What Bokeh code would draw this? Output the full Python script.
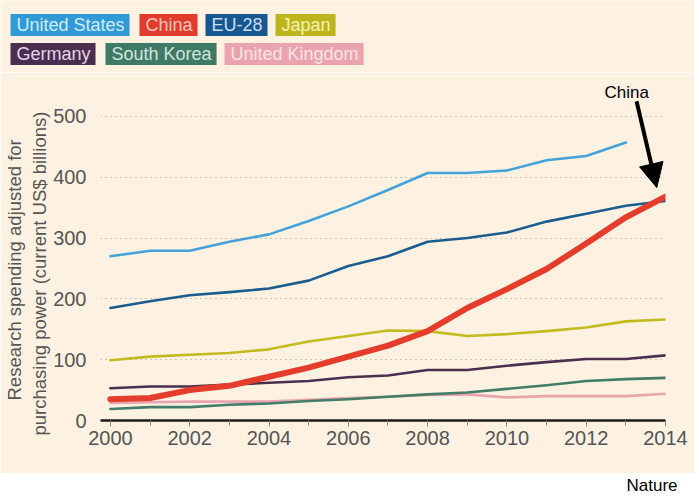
from bokeh.plotting import figure
from bokeh.models import Range1d, FixedTicker, Label, Arrow, NormalHead, Title
from bokeh.layouts import column
from bokeh.embed import file_html
from bokeh.resources import INLINE

# ---------------- data ----------------
years = list(range(2000, 2015))
years_us = list(range(2000, 2014))
us = [270, 279, 279, 294, 306, 328, 352, 379, 407, 407, 411, 428, 435, 457]
china = [35, 37, 50, 57, 72, 87, 105, 123, 147, 185, 216, 249, 291, 334, 368]
eu28 = [185, 196, 206, 211, 217, 230, 254, 270, 294, 300, 309, 327, 340, 353, 361]
japan = [99, 105, 108, 111, 117, 130, 139, 148, 147, 139, 142, 147, 153, 163, 166]
germany = [53, 56, 56, 59, 62, 65, 71, 74, 83, 83, 90, 96, 101, 101, 107]
south_korea = [19, 22, 22, 26, 28, 32, 35, 39, 43, 46, 52, 58, 65, 68, 70]
uk = [29, 30, 31, 31, 31, 34, 37, 39, 42, 43, 38, 40, 40, 40, 44]

names = ["United States", "China", "EU-28", "Japan",
         "Germany", "South Korea", "United Kingdom"]
x_ticks = [2000, 2002, 2004, 2006, 2008, 2010, 2012, 2014]
x_minor = [2001, 2003, 2005, 2007, 2009, 2011, 2013]
y_ticks = [0, 100, 200, 300, 400, 500]
y_title = ["Research spending adjusted for", "purchasing power (current US$ billions)"]

# ---------------- style ----------------
BG = "#FDF2E2"
FONT = "Liberation Sans"
W = 694
line_col = {"United States": "#45A2D8", "China": "#E53D2B", "EU-28": "#1B5C8E",
            "Japan": "#C3BA1E", "Germany": "#4A2F4E", "South Korea": "#437C68",
            "United Kingdom": "#E9A5AE"}
box_col = {"United States": "#2F9AD6", "China": "#E03B2D", "EU-28": "#17578F",
           "Japan": "#BEB51D", "Germany": "#4A2E4F", "South Korea": "#3F7A66",
           "United Kingdom": "#EAA4AE"}
txt_col = {"United States": "#D3EBF8", "China": "#F8C3BC", "EU-28": "#C9DDEE",
           "Japan": "#F6F1B4", "Germany": "#E4D6E5", "South Korea": "#D0E5DC",
           "United Kingdom": "#FAE3E6"}


def no_align(fig):
    if "frame_align" in fig.properties():
        fig.frame_align = False


def bare(width, height, bg, x_end, y_start, y_end):
    fig = figure(width=width, height=height, output_backend="svg",
                 toolbar_location=None, x_range=Range1d(0, x_end),
                 y_range=Range1d(y_start, y_end), min_border=0,
                 x_axis_location=None, y_axis_location=None)
    fig.grid.visible = False
    fig.outline_line_color = None
    fig.background_fill_color = bg
    fig.border_fill_color = bg
    no_align(fig)
    return fig


# ---------------- legend strip ----------------
LH = 72
leg = bare(W, LH, BG, W, LH, 0)
legend_pos = [(10, 24.5), (139, 24.5), (205, 24.5), (275, 24.5),
              (10, 53.5), (105, 53.5), (224, 53.5)]
for nm, (px, py) in zip(names, legend_pos):
    leg.add_layout(Label(x=px, y=py, text=nm, text_font=FONT,
                         text_font_size="18px", text_color=txt_col[nm],
                         text_baseline="middle", text_align="left",
                         background_fill_color=box_col[nm],
                         padding={"left": 6, "right": 5, "top": 1, "bottom": 1}))

# ---------------- main chart ----------------
p = figure(width=W, height=473 - LH, output_backend="svg", toolbar_location=None,
           x_range=Range1d(1999.75, 2014), y_range=Range1d(0, 559),
           min_border_left=100, min_border_right=29, min_border_top=8,
           min_border_bottom=53)
no_align(p)
p.background_fill_color = BG
p.border_fill_color = BG
p.outline_line_color = None

# x axis
p.xaxis.ticker = FixedTicker(ticks=x_ticks, minor_ticks=x_minor)
p.xaxis.axis_line_color = "#1c1c1c"
p.xaxis.axis_line_width = 2.5
p.xaxis.major_tick_in = 0
p.xaxis.major_tick_out = 6
p.xaxis.minor_tick_in = 0
p.xaxis.minor_tick_out = 5
p.xaxis.major_tick_line_color = "#8c8a82"
p.xaxis.minor_tick_line_color = "#8c8a82"
p.xaxis.major_label_text_font = FONT
p.xaxis.major_label_text_font_size = "20px"
p.xaxis.major_label_text_color = "#555555"
p.xaxis.major_label_standoff = 4
p.xgrid.visible = False

# y axis
p.yaxis.ticker = FixedTicker(ticks=y_ticks)
p.yaxis.axis_line_color = None
p.yaxis.major_tick_line_color = None
p.yaxis.minor_tick_line_color = None
p.yaxis.major_label_text_font = FONT
p.yaxis.major_label_text_font_size = "20px"
p.yaxis.major_label_text_color = "#555555"
p.yaxis.major_label_standoff = 8
p.ygrid.grid_line_color = "#9a9893"
p.ygrid.grid_line_dash = "1 4"
p.ygrid.grid_line_width = 1.2

# y title as two stacked left titles (inner line added first)
title_offsets = [20, -15]
for txt, off in reversed(list(zip(y_title, title_offsets))):
    p.add_layout(Title(text=txt, align="left", offset=off, standoff=2,
                       text_font=FONT, text_font_size="18.5px",
                       text_font_style="normal", text_color="#555555"), "left")

# lines
data = {"United States": (years_us, us), "EU-28": (years, eu28),
        "Japan": (years, japan), "Germany": (years, germany),
        "South Korea": (years, south_korea), "United Kingdom": (years, uk),
        "China": (years, china)}
for nm in ["United Kingdom", "South Korea", "Germany", "Japan", "EU-28",
           "United States", "China"]:
    xs, ys = data[nm]
    p.line(xs, ys, line_color=line_col[nm],
           line_width=6 if nm == "China" else 2.6,
           line_join="round", line_cap="round")

# annotation
p.add_layout(Arrow(x_start=2013.27, y_start=525, x_end=2013.78, y_end=383,
                   line_width=4, line_color="black",
                   end=NormalHead(size=24, fill_color="black", line_color="black")))
p.add_layout(Label(x=2013.02, y=539, text="China", text_font=FONT,
                   text_font_size="17px", text_color="black",
                   text_align="center", text_baseline="alphabetic"))

# ---------------- footer ----------------
f = bare(W, 25, "white", 1, 0, 1)
f.add_layout(Label(x=1, y=0.5, x_offset=-17, y_offset=1, text="Nature", text_font=FONT,
                   text_font_size="17px", text_color="black",
                   text_align="right", text_baseline="middle"))

layout = column(leg, p, f, spacing=0)
open("out.html", "w").write(file_html(layout, INLINE))
